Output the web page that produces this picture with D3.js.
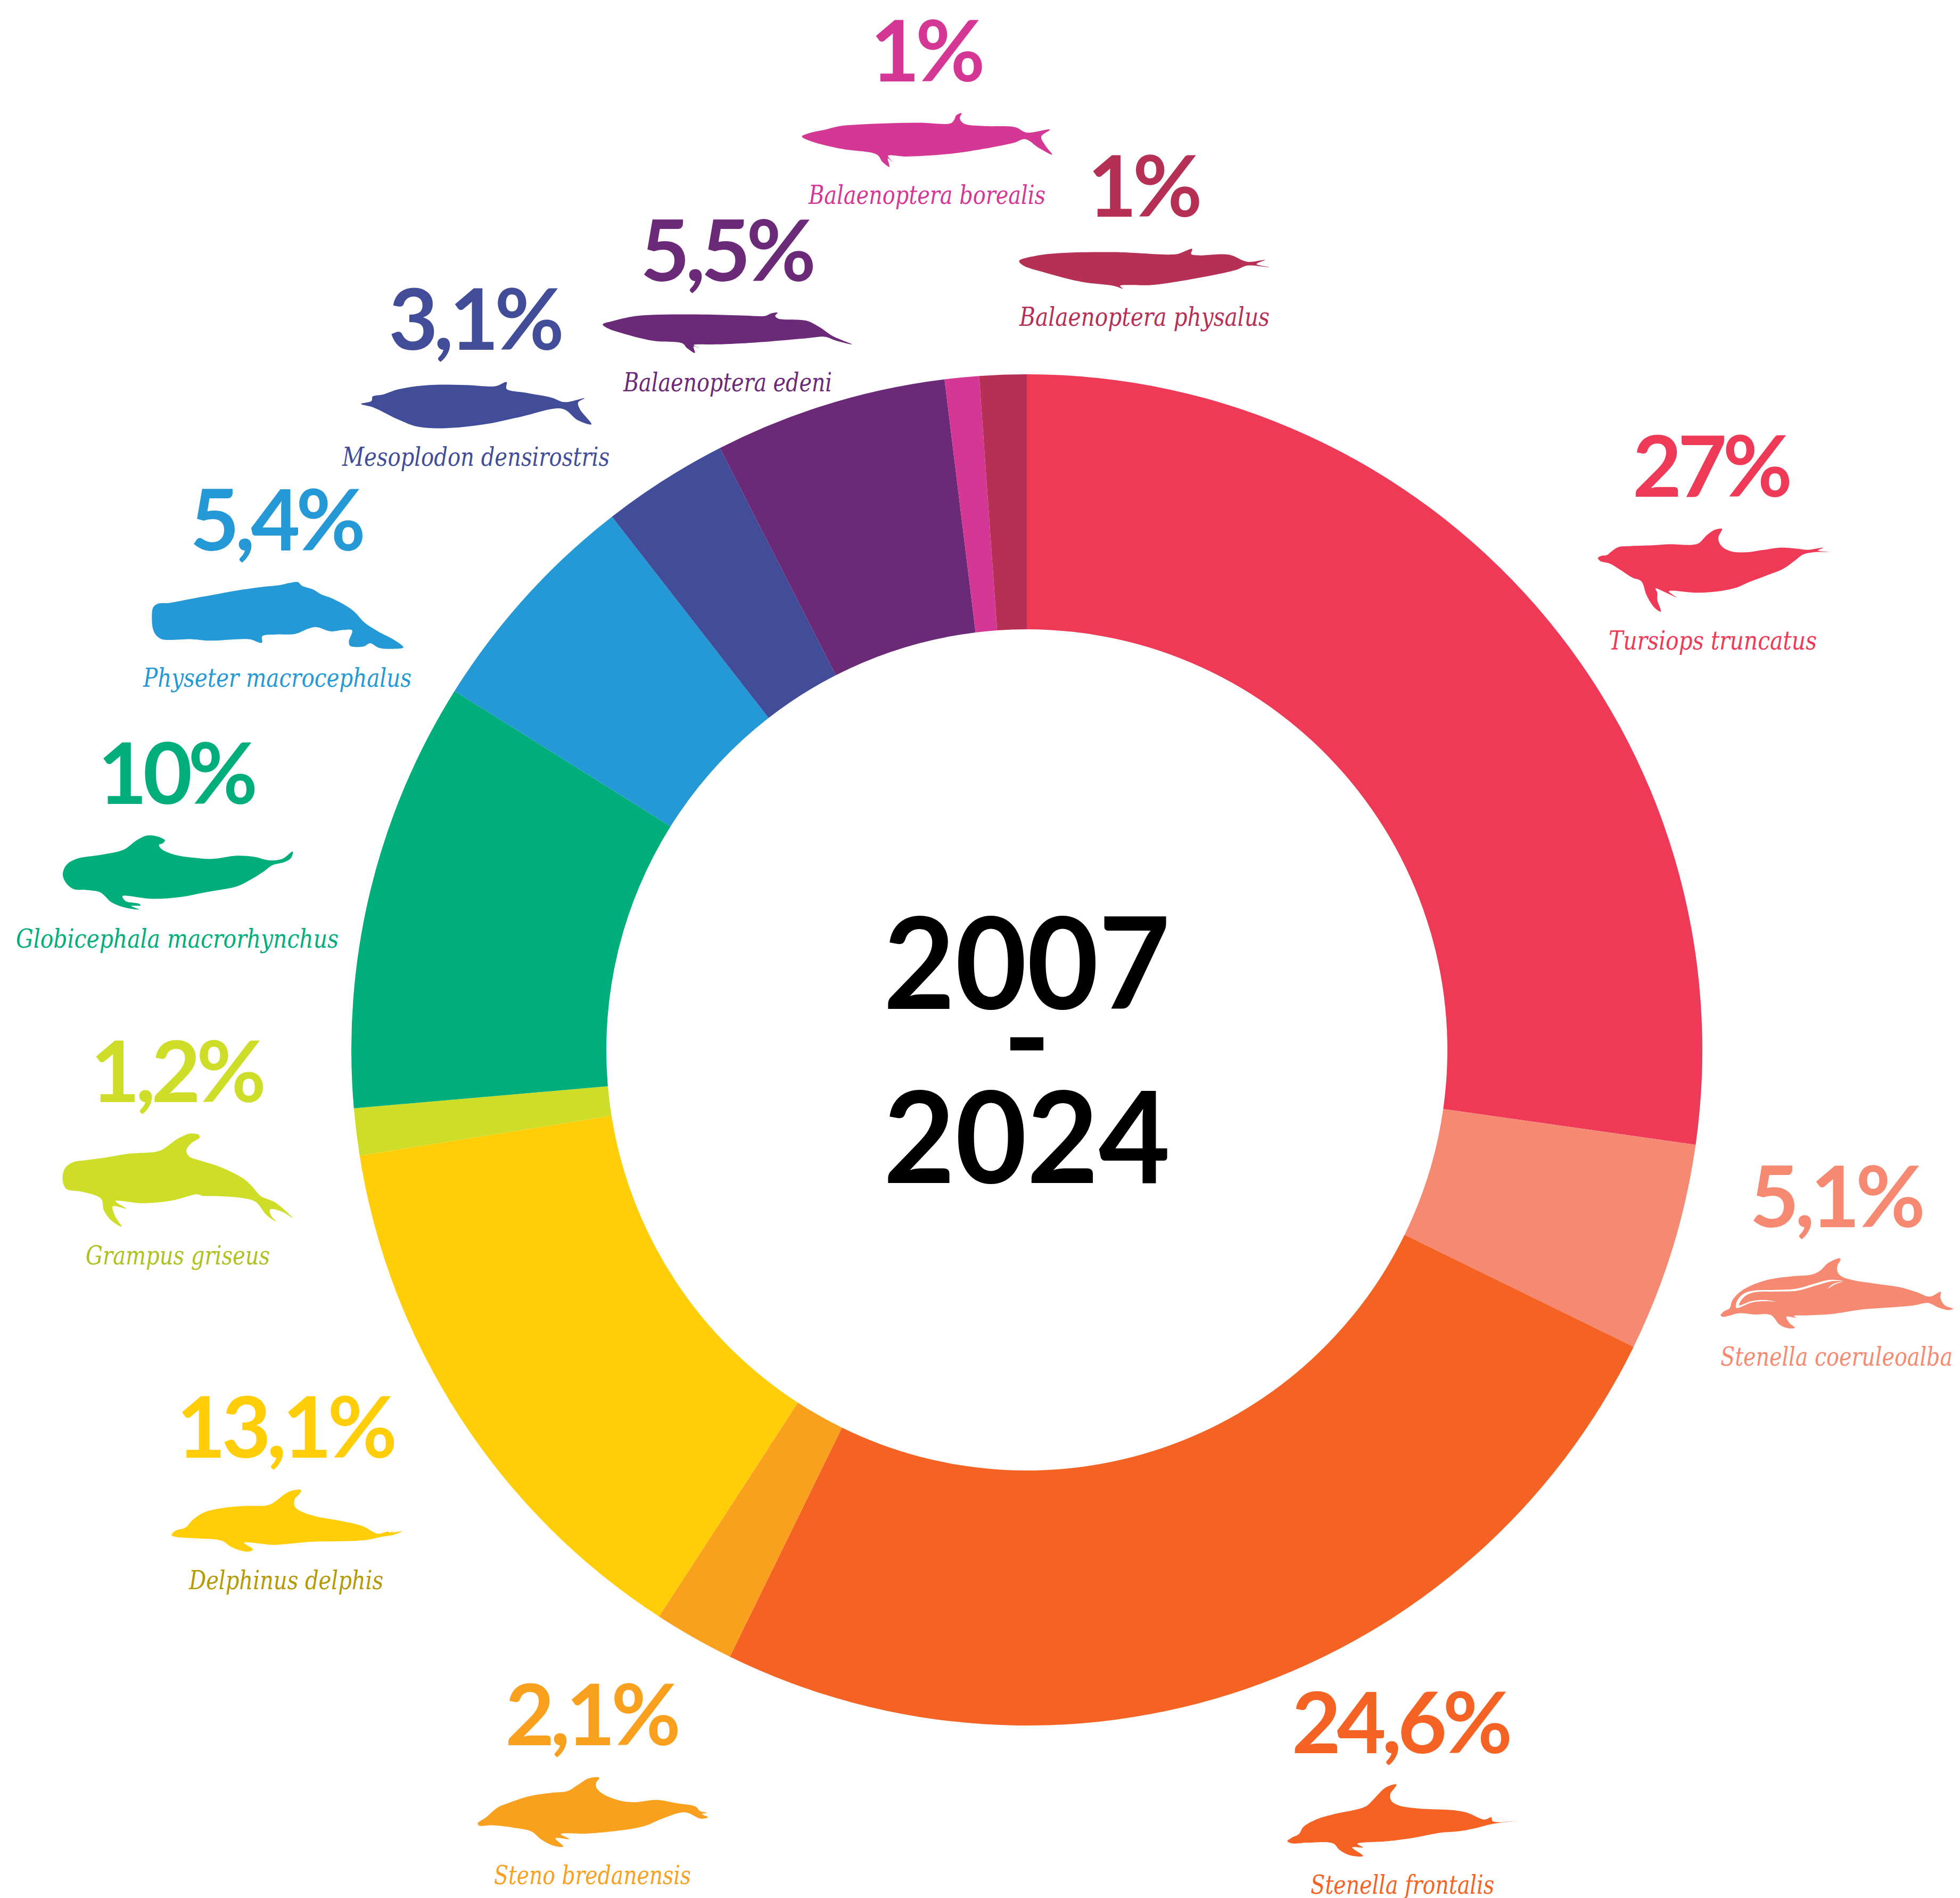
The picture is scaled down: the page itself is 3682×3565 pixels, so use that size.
<!DOCTYPE html>
<html>
<head>
<meta charset="utf-8">
<script src="https://cdn.jsdelivr.net/npm/d3@7"></script>
<style>
  html, body { margin: 0; padding: 0; background: #fff; }
  svg { display: block; }
</style>
</head>
<body>
<div id="chart"></div>
<script>
// share of sightings per species, clockwise from 12 o'clock
const species = ["Tursiops truncatus", "Stenella coeruleoalba", "Stenella frontalis", "Steno bredanensis",
    "Delphinus delphis", "Grampus griseus", "Globicephala macrorhynchus", "Physeter macrocephalus",
    "Mesoplodon densirostris", "Balaenoptera edeni", "Balaenoptera borealis", "Balaenoptera physalus"];
// slice sizes as measured off the ring, they do not follow the printed labels exactly
const shares = [27.24, 5.0, 25.0, 1.92, 13.33, 1.125, 10.29, 5.56, 3.02, 5.56, 0.82, 1.125];
const shareLabels = ["27%", "5,1%", "24,6%", "2,1%", "13,1%", "1,2%", "10%", "5,4%", "3,1%", "5,5%", "1%", "1%"];
const sliceColors = ["#EF3A57", "#F68971", "#F46324", "#F9A11F", "#FFCE09", "#CEDD27",
    "#00AE7B", "#2598D6", "#424D9A", "#6A2A78", "#D43894", "#B63055"];
const nameColors = ["#EF3A57", "#F68971", "#F46324", "#F9A11F", "#B49A00", "#AEC11F",
    "#00AE7B", "#2598D6", "#424D9A", "#6A2A78", "#D43894", "#B63055"];
const yearLines = ["2007", "-", "2024"];

// animal outlines, in their own drawing units
const tursiops = [[155,865],[175,852],[205,848],[235,825],[270,803],[340,797],[460,793],[560,787],[690,790],[725,780],[770,735],[815,705],[855,700],[850,715],[835,745],[838,775],[860,805],[910,828],[990,832],[1080,820],[1180,806],[1280,812],[1340,818],[1425,806],[1395,822],[1450,830],[1370,832],[1310,845],[1270,875],[1200,925],[1100,965],[1000,1003],[940,1030],[850,1050],[720,1060],[555,1052],[598,1086],[540,1060],[480,1036],[490,1060],[490,1100],[510,1166],[475,1145],[430,1075],[400,995],[350,975],[280,930],[220,895],[170,882]];
const coeruleoalba = [[157,992],[175,970],[208,952],[222,910],[260,865],[315,830],[430,790],[560,772],[670,762],[715,742],[765,695],[830,670],[832,680],[815,712],[815,745],[835,770],[900,793],[1020,812],[1160,832],[1260,860],[1335,886],[1398,860],[1395,890],[1420,935],[1468,955],[1440,962],[1385,948],[1325,922],[1250,935],[1100,948],[960,958],[780,985],[640,992],[570,995],[582,1005],[528,1000],[545,1035],[575,1062],[540,1065],[490,1045],[440,990],[345,987],[260,980],[200,995],[170,1000]];
const coeruleoStripe = [[245,950],[250,910],[290,868],[345,852],[470,848],[580,842],[680,815],[770,792],[848,798],[780,800],[690,825],[590,853],[470,858],[350,862],[300,880],[265,920],[262,935],[330,912],[400,905],[470,915],[400,912],[330,920]];
const coeruleoStripe2 = [[760,842],[790,815],[848,800],[800,818]];
const frontalis = [[85,925],[110,905],[150,885],[175,845],[250,802],[350,772],[525,730],[570,690],[640,622],[700,605],[690,625],[665,660],[670,695],[710,722],[820,740],[1020,750],[1100,765],[1195,803],[1235,790],[1240,810],[1280,818],[1380,810],[1240,828],[1160,848],[1060,868],[940,878],[800,905],[650,925],[480,940],[512,960],[450,960],[512,1008],[440,1005],[380,975],[342,937],[200,933],[110,937]];
const steno = [[82,885],[130,850],[195,795],[250,772],[370,732],[500,712],[590,702],[640,672],[710,630],[768,628],[750,655],[752,685],[790,720],[880,755],[960,765],[1090,752],[1200,770],[1310,790],[1335,815],[1375,825],[1345,832],[1380,850],[1340,858],[1250,822],[1130,855],[1020,900],[880,925],[700,942],[550,945],[598,973],[520,968],[565,1015],[510,1010],[440,975],[385,930],[280,908],[160,895],[90,897]];
const delphinus = [[66,850],[90,825],[145,808],[185,765],[250,722],[350,698],[470,686],[600,683],[640,668],[720,610],[770,595],[798,597],[790,615],[760,650],[762,690],[800,718],[880,745],[1020,770],[1140,798],[1230,842],[1285,830],[1295,835],[1325,826],[1310,835],[1365,828],[1320,848],[1260,858],[1160,878],[1000,885],[850,888],[720,900],[640,905],[475,893],[525,930],[510,942],[460,938],[400,915],[350,882],[200,868],[90,860]];
const grampus = [[53,890],[65,825],[110,790],[180,778],[300,762],[420,742],[580,730],[620,715],[700,658],[770,628],[820,635],[825,650],[780,680],[750,722],[765,755],[830,780],[940,815],[1070,880],[1120,925],[1170,980],[1250,1015],[1350,1104],[1290,1068],[1222,1055],[1228,1090],[1255,1122],[1205,1090],[1140,1012],[1060,990],[930,980],[840,978],[810,970],[670,1005],[500,1020],[350,1008],[410,1050],[335,1038],[350,1095],[385,1152],[330,1120],[285,1060],[270,995],[160,955],[75,940]];
const globicephala = [[240,845],[260,790],[310,757],[410,738],[520,708],[580,655],[630,628],[680,635],[710,655],[700,672],[683,680],[695,705],[760,738],[860,755],[930,760],[1040,742],[1120,748],[1190,768],[1250,760],[1298,718],[1290,755],[1260,778],[1205,795],[1160,835],[1100,880],[1040,915],[900,947],[780,975],[650,985],[515,970],[530,998],[590,1012],[598,1022],[555,1025],[592,1045],[530,1035],[465,1005],[412,948],[350,935],[290,930],[255,895]];
const physeter = [[127,830],[135,780],[165,760],[215,758],[330,735],[450,712],[560,690],[700,668],[800,657],[850,645],[895,640],[915,660],[975,682],[1015,708],[1070,730],[1150,775],[1195,810],[1245,868],[1320,920],[1400,965],[1450,1008],[1380,1016],[1320,1010],[1275,985],[1240,1003],[1170,1000],[1163,975],[1180,912],[1130,910],[1070,918],[990,893],[950,902],[880,932],[780,935],[708,945],[705,982],[640,962],[430,970],[340,962],[180,962],[150,940],[133,905]];
const mesoplodon = [[60,1100],[90,1085],[95,1058],[125,1048],[170,1020],[260,997],[370,997],[455,1003],[488,980],[490,1020],[550,1040],[620,1065],[660,1090],[718,1068],[700,1090],[705,1130],[738,1212],[700,1190],[650,1125],[530,1170],[420,1212],[310,1232],[230,1225],[170,1185],[95,1118]];
const edeni = [[772,665],[800,648],[870,620],[960,612],[1080,612],[1190,618],[1250,620],[1270,605],[1287,602],[1280,620],[1290,635],[1370,645],[1410,680],[1450,730],[1507,775],[1460,755],[1425,733],[1370,742],[1220,765],[1110,775],[1040,778],[1056,795],[1040,785],[1043,822],[1020,795],[1005,768],[920,755],[840,720],[790,690]];
const borealis = [[73,628],[100,610],[140,597],[185,580],[240,573],[330,567],[420,565],[510,568],[522,550],[528,530],[543,520],[538,545],[552,570],[610,580],[700,585],[735,610],[803,596],[778,628],[790,670],[810,712],[770,680],[730,640],[695,658],[570,695],[480,712],[380,720],[327,716],[340,745],[326,728],[330,768],[310,745],[292,710],[190,685],[100,650]];
const physalus = [[713,1200],[760,1178],[830,1165],[990,1160],[1175,1170],[1195,1160],[1222,1145],[1220,1170],[1240,1175],[1330,1172],[1385,1205],[1437,1196],[1412,1215],[1450,1230],[1385,1222],[1350,1243],[1170,1298],[1100,1312],[1010,1315],[1018,1328],[990,1315],[900,1298],[790,1255],[725,1222]];
const outlines = [tursiops, coeruleoalba, frontalis, steno, delphinus, grampus, globicephala, physeter, mesoplodon, edeni, borealis, physalus];

// page layout
const width = 3682, height = 3565;
const cx = 1929, cy = 1972, outerR = 1269, innerR = 790;

// share label centre x, baseline / name left, right, baseline
const sharePos = [[3217,933],[3452,2305],[2634,3293],[1114,3278],[539,2738],[335,2070],[334,1510],[522,1034],[895,657],[1368,528],[1743,153],[2151,407]];
const namePos = [[3022,3413,1220],[3232,3668,2565],[2462,2807,3557],[928,1298,3539],[355,720,2985],[161,507,2375],[30,636,1780],[269,773,1290],[643,1145,875],[1171,1563,735],[1519,1964,383],[1915,2385,612]];
// outline origin x, y and units per pixel x, y
const iconPos = [[2950,760,3,3],[3180,2140,3,3],[2390,3150,3,3],[870,3130,3,3],[300,2600,3,3],[100,1920,3,3],[20,1360,2.45,3],[240,880,2.8,3],[640,380,1.568,2.904],[640,380,1.568,2.904],[1460,0,1.568,2.45],[1460,0,1.568,2.45]];
const shareSpacing = -8;

const svg = d3.select("#chart").append("svg")
    .attr("width", width)
    .attr("height", height)
    .attr("viewBox", [0, 0, width, height]);

// donut
const pie = d3.pie().sort(null).value(d => d);
const arc = d3.arc().innerRadius(innerR).outerRadius(outerR);

svg.append("g")
    .attr("transform", `translate(${cx},${cy})`)
    .selectAll("path")
    .data(pie(shares))
    .join("path")
    .attr("d", arc)
    .attr("fill", (d, i) => sliceColors[i]);

// centre years, the digits are a bit narrower than plain Lato
const yearBaselines = [1895, 2033, 2222];
svg.append("g")
    .selectAll("text")
    .data(yearLines)
    .join("text")
    .attr("x", cx)
    .attr("y", (d, i) => yearBaselines[i])
    .attr("text-anchor", "middle")
    .attr("textLength", d => d.length > 1 ? 539 : null)
    .attr("lengthAdjust", "spacingAndGlyphs")
    .attr("font-family", "Lato, Carlito, sans-serif")
    .attr("font-weight", 700)
    .attr("font-size", 240)
    .attr("fill", "#000")
    .text(d => d);

// share labels
svg.append("g")
    .selectAll("text")
    .data(shareLabels)
    .join("text")
    .attr("x", (d, i) => sharePos[i][0] + shareSpacing / 2)
    .attr("y", (d, i) => sharePos[i][1])
    .attr("text-anchor", "middle")
    .attr("font-family", "Lato, Carlito, sans-serif")
    .attr("font-weight", 700)
    .attr("font-size", 160)
    .attr("letter-spacing", shareSpacing)
    .attr("fill", (d, i) => sliceColors[i])
    .text(d => d);

// animals
const outline = d3.line().curve(d3.curveCatmullRomClosed.alpha(0.5));
const icons = svg.append("g")
    .selectAll("g")
    .data(outlines)
    .join("g")
    .attr("transform", (d, i) => {
        const p = iconPos[i];
        return `translate(${p[0]},${p[1]}) scale(${1 / p[2]},${1 / p[3]})`;
    });
icons.append("path")
    .attr("d", d => outline(d))
    .attr("fill", (d, i) => sliceColors[i]);

// white markings on the striped dolphin
icons.filter((d, i) => i === 1)
    .selectAll("path.stripe")
    .data([coeruleoStripe, coeruleoStripe2])
    .join("path")
    .attr("class", "stripe")
    .attr("d", d => outline(d))
    .attr("fill", "#fff");

// species names
svg.append("g")
    .selectAll("text")
    .data(species)
    .join("text")
    .attr("x", (d, i) => namePos[i][0])
    .attr("y", (d, i) => namePos[i][2])
    .attr("textLength", (d, i) => namePos[i][1] - namePos[i][0])
    .attr("lengthAdjust", "spacingAndGlyphs")
    .attr("font-family", "'DejaVu Serif Condensed', 'DejaVu Serif', serif")
    .attr("font-style", "italic")
    .attr("font-size", 48)
    .attr("fill", (d, i) => nameColors[i])
    .text(d => d);
</script>
</body>
</html>
